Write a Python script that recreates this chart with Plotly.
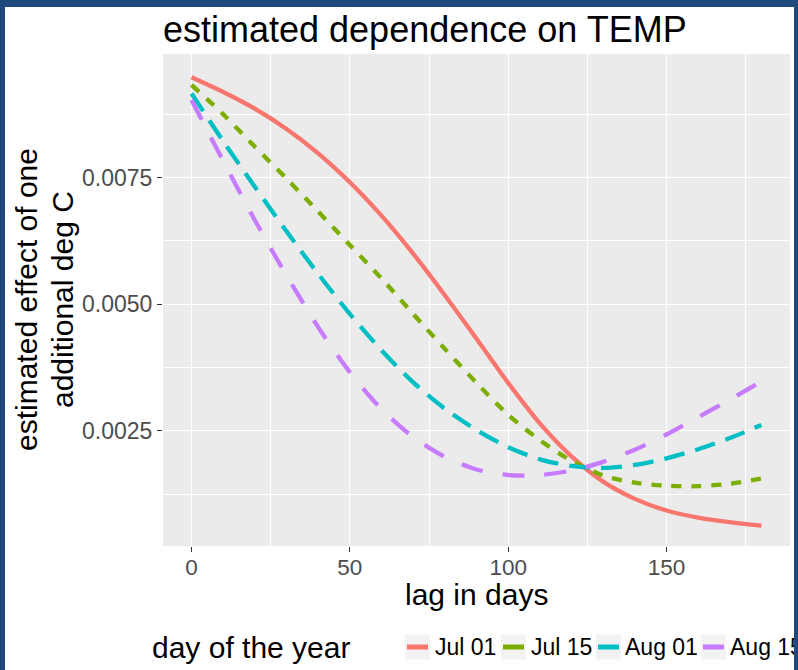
import plotly.graph_objects as go

# ---- data ----
lag_days = [0, 10, 20, 30, 40, 50, 60, 70, 80, 90, 100, 110, 120, 130, 140, 150, 160, 170, 180]
jul01 = [0.00948, 0.00919, 0.00886, 0.00846, 0.00798, 0.00741, 0.00675, 0.00600, 0.00518, 0.00432,
         0.00345, 0.00265, 0.00200, 0.00150, 0.00116, 0.00093, 0.00079, 0.00070, 0.00063]
jul15 = [0.00933, 0.00875, 0.00811, 0.00748, 0.00683, 0.00617, 0.00551, 0.00481, 0.00412, 0.00345,
         0.00282, 0.00232, 0.00191, 0.00162, 0.00148, 0.00142, 0.00141, 0.00146, 0.00156]
aug01 = [0.00916, 0.00822, 0.00732, 0.00644, 0.00560, 0.00481, 0.00409, 0.00346, 0.00294, 0.00252,
         0.00218, 0.00194, 0.00181, 0.00177, 0.00183, 0.00196, 0.00214, 0.00236, 0.00262]
aug15 = [0.00903, 0.00783, 0.00666, 0.00557, 0.00455, 0.00366, 0.00293, 0.00238, 0.00199, 0.00174,
         0.00163, 0.00163, 0.00172, 0.00189, 0.00213, 0.00243, 0.00277, 0.00312, 0.00348]

series_names = ["Jul 01", "Jul 15", "Aug 01", "Aug 15"]
series_values = [jul01, jul15, aug01, aug15]

x_tickvals = [0, 50, 100, 150]
x_minor = [25, 75, 125, 175]
y_tickvals = [0.0025, 0.0050, 0.0075]
y_ticktext = ["0.0025", "0.0050", "0.0075"]
y_minor = [0.00125, 0.00375, 0.00625, 0.00875]

legend_title = "day of the year"

# ---- styles / layout geometry (pixels in the figure) ----
colors = ["#F8766D", "#7CAE00", "#00BFC4", "#C77CFF"]
dashes = ["solid", "10px,10px", "21px,11px", "22px,20px"]
FONT = "Arial, Liberation Sans, sans-serif"
W, H = 789, 663
ML, MR, MT, MB = 158, 4, 47, 124
PW, PH = W - ML - MR, H - MT - MB


def px_x(x):
    return (x - ML) / PW


def px_y(y):
    return (H - MB - y) / PH


fig = go.Figure()
for name, ys, c, d in zip(series_names, series_values, colors, dashes):
    fig.add_trace(go.Scatter(
        x=lag_days, y=ys, mode="lines", name=name, showlegend=False,
        line=dict(color=c, width=4.3, dash=d, shape="spline", smoothing=0.8),
    ))

# legend drawn in ggplot style: grey key boxes with a short coloured line, then the label
key_left = [400, 496, 591, 696]
text_left = [428, 524, 618, 723]
legend_cy = 640
shapes = []
annotations = []
for name, c, kx, tx in zip(series_names, colors, key_left, text_left):
    shapes.append(dict(type="rect", xref="paper", yref="paper",
                       x0=px_x(kx), x1=px_x(kx + 25), y0=px_y(legend_cy - 12.5), y1=px_y(legend_cy + 12.5),
                       fillcolor="#F2F2F2", line=dict(width=0), layer="above"))
    shapes.append(dict(type="line", xref="paper", yref="paper",
                       x0=px_x(kx + 2), x1=px_x(kx + 23), y0=px_y(legend_cy), y1=px_y(legend_cy),
                       line=dict(color=c, width=5), layer="above"))
    annotations.append(dict(text=name, xref="paper", yref="paper", x=px_x(tx), y=px_y(legend_cy),
                            xanchor="left", yanchor="middle", showarrow=False,
                            font=dict(size=23, color="black", family=FONT)))

annotations += [
    dict(text=legend_title, xref="paper", yref="paper", x=px_x(145), y=px_y(legend_cy),
         xanchor="left", yanchor="middle", showarrow=False,
         font=dict(size=30, color="black", family=FONT)),
    dict(text="estimated effect of one", textangle=-90, xref="paper", yref="paper",
         x=0, y=0.5, xanchor="center", yanchor="middle", xshift=-137, showarrow=False,
         font=dict(size=30, color="black", family=FONT)),
    dict(text="additional deg C", textangle=-90, xref="paper", yref="paper",
         x=0, y=0.5, xanchor="center", yanchor="middle", xshift=-101, showarrow=False,
         font=dict(size=30, color="black", family=FONT)),
    dict(text="lag in days", xref="paper", yref="paper", x=0.5, y=0,
         xanchor="center", yanchor="middle", yshift=-48, showarrow=False,
         font=dict(size=30, color="black", family=FONT)),
]

fig.update_layout(
    width=W, height=H,
    margin=dict(l=ML, r=MR, t=MT, b=MB),
    paper_bgcolor="white",
    plot_bgcolor="#EBEBEB",
    font=dict(family=FONT, color="black"),
    showlegend=False,
    title=dict(text="estimated dependence on TEMP", font=dict(size=36, color="black", family=FONT),
               x=0, xref="paper", xanchor="left", y=1 - 22 / H, yref="container", yanchor="middle"),
    xaxis=dict(range=[-9, 189], tickvals=x_tickvals, ticks="outside", ticklen=5, tickwidth=1.1,
               tickcolor="#333333", tickfont=dict(size=22.5, color="#4D4D4D", family=FONT),
               ticklabelstandoff=-4,
               showgrid=True, gridcolor="white", gridwidth=1.3, zeroline=False, showline=False,
               minor=dict(tickvals=x_minor, showgrid=True, gridcolor="white", gridwidth=0.7, ticks="")),
    yaxis=dict(range=[0.00023, 0.00994], tickvals=y_tickvals, ticktext=y_ticktext, ticks="outside",
               ticklen=5, tickwidth=1.1, tickcolor="#333333",
               tickfont=dict(size=23, color="#4D4D4D", family=FONT),
               showgrid=True, gridcolor="white", gridwidth=1.3, zeroline=False, showline=False,
               minor=dict(tickvals=y_minor, showgrid=True, gridcolor="white", gridwidth=0.7, ticks="")),
    shapes=shapes,
    annotations=annotations,
)

post_js = ("document.body.style.background='#1F497D';document.body.style.margin='0';"
           "var d=document.getElementById('{plot_id}');d.style.marginLeft='5px';"
           "d.style.marginTop='7px';d.style.overflow='hidden';")

fig.write_html("out.html", post_script=post_js)
